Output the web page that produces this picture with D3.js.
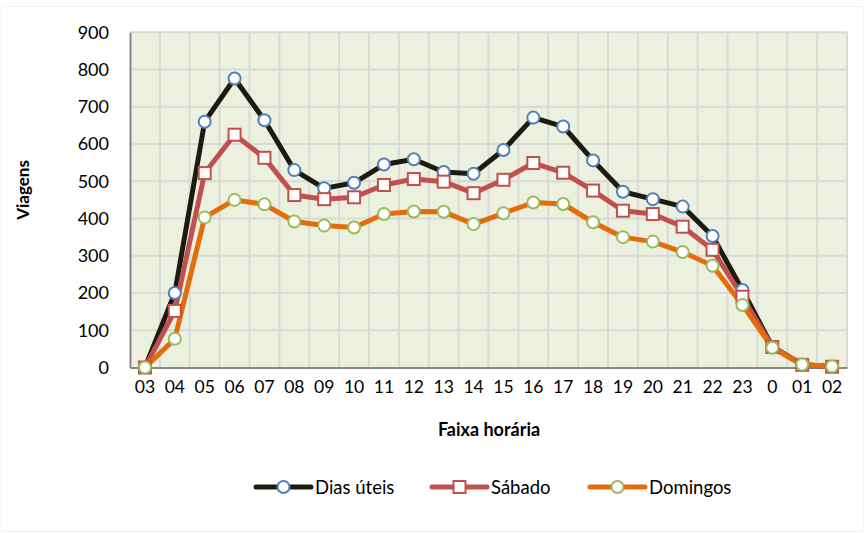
<!DOCTYPE html>
<html><head><meta charset="utf-8">
<script src="https://cdn.jsdelivr.net/npm/d3@7"></script>
<style>body{margin:0;background:#fff;} svg{display:block;font-family:Lato,"Open Sans",sans-serif;}</style>
</head><body><svg id="c" width="865" height="533"></svg>
<script>
const categories = ["03","04","05","06","07","08","09","10","11","12","13","14","15","16","17","18","19","20","21","22","23","0","01","02"];
const diasUteis = [0,200,660,776,664,530,481,496,545,559,525,520,584,671,647,556,472,452,432,353,208,56,8,2];
const sabado    = [0,152,522,625,563,463,452,457,490,506,499,468,504,549,523,475,421,412,378,316,190,55,7,2];
const domingos  = [0,77,403,450,438,392,381,376,412,419,418,385,414,443,439,390,350,338,310,273,168,53,8,3];
const yTicks = [0,100,200,300,400,500,600,700,800,900];

const series = [
  {name:"Dias úteis", values:diasUteis, line:"#1d1b11", marker:"circle", mstroke:"#4f81bd"},
  {name:"Sábado", values:sabado, line:"#c0504d", marker:"square", mstroke:"#c0504d"},
  {name:"Domingos", values:domingos, line:"#e46c0a", marker:"circle", mstroke:"#9bbb59"}
];

const svg = d3.select("#c");
const L=130, R=847, T=32.3, B=367.5;
svg.append("rect").attr("x",1.5).attr("y",6.5).attr("width",862).attr("height",525).attr("fill","#fff").attr("stroke","#f2f2f2");

const x = d3.scaleBand().domain(categories).range([L,R]);
const y = d3.scaleLinear().domain([0,900]).range([B,T]);

svg.append("rect").attr("x",L).attr("y",T).attr("width",R-L).attr("height",B-T).attr("fill","#ebf1de");
const g = svg.append("g");
g.selectAll(".h").data(yTicks.slice(1)).join("line")
  .attr("x1",L).attr("x2",R).attr("y1",d=>y(d)).attr("y2",d=>y(d))
  .attr("stroke","#d9d9d9").attr("stroke-width",2);
g.selectAll(".v").data(categories.slice(1).concat(["end"])).join("line")
  .attr("x1",(d,i)=> i<categories.length-1 ? x(d) : R).attr("x2",(d,i)=> i<categories.length-1 ? x(d) : R)
  .attr("y1",T).attr("y2",B).attr("stroke","#d9d9d9").attr("stroke-width",2);

const ax = svg.append("g").attr("transform",`translate(0,${B})`)
  .call(d3.axisBottom(x).tickSize(0).tickPadding(13));
ax.select(".domain").attr("stroke","#868686").attr("stroke-width",2);
ax.selectAll("text").attr("font-size","17.5px").attr("fill","#000").attr("font-family","Lato");
const ay = svg.append("g").attr("transform",`translate(${L},0)`)
  .call(d3.axisLeft(y).tickValues(yTicks).tickSize(0).tickPadding(21));
ay.select(".domain").attr("stroke","#868686").attr("stroke-width",2);
ay.selectAll("text").attr("font-size","18px").attr("fill","#000").attr("font-family","Lato");

const cx = d=>x(d)+x.bandwidth()/2;
const line = d3.line().x((d,i)=>cx(categories[i])).y(d=>y(d));
series.forEach(s=>{
  svg.append("path").attr("d",line(s.values)).attr("fill","none")
    .attr("stroke",s.line).attr("stroke-width",5).attr("stroke-linejoin","round");
});
function drawMarker(sel, s, px, py){
  if(s.marker==="circle"){
    sel.append("circle").attr("cx",px).attr("cy",py).attr("r",6)
      .attr("fill","#fff").attr("stroke",s.mstroke).attr("stroke-width",2);
  } else {
    sel.append("rect").attr("x",px-6).attr("y",py-6).attr("width",12).attr("height",12)
      .attr("fill","#fff").attr("stroke",s.mstroke).attr("stroke-width",2);
  }
}
series.forEach(s=>{
  const gm = svg.append("g");
  s.values.forEach((v,i)=>drawMarker(gm,s,cx(categories[i]),y(v)));
});

svg.append("text").attr("x",489).attr("y",436).attr("text-anchor","middle")
  .attr("font-weight","bold").attr("font-size","18px").text("Faixa horária");
svg.append("text").attr("transform","translate(29,190) rotate(-90)").attr("text-anchor","middle")
  .attr("font-weight","bold").attr("font-size","17px").text("Viagens");

const legX = [256,432,590];
series.forEach((s,i)=>{
  const lg = svg.append("g");
  const x0 = legX[i], ly = 487;
  lg.append("line").attr("x1",x0).attr("x2",x0+55).attr("y1",ly).attr("y2",ly)
    .attr("stroke",s.line).attr("stroke-width",5).attr("stroke-linecap","round");
  drawMarker(lg,s,x0+27.5,ly);
  lg.append("text").attr("x",x0+59).attr("y",ly+6.5).attr("font-size","18.5px").text(s.name);
});
</script></body></html>
